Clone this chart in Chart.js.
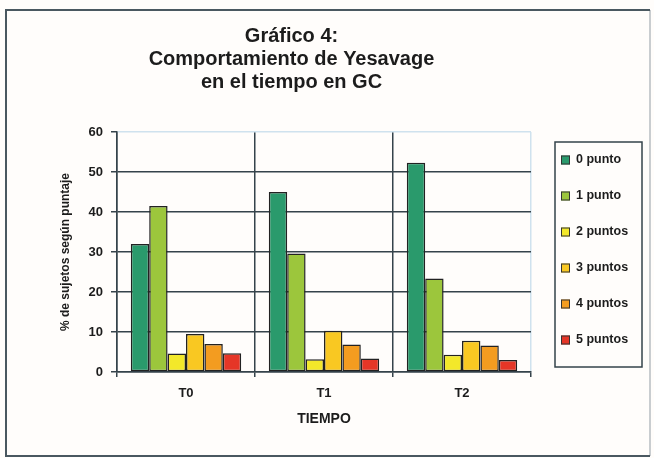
<!DOCTYPE html>
<html>
<head>
<meta charset="utf-8">
<script src="https://cdn.jsdelivr.net/npm/chart.js@4/dist/chart.umd.min.js"></script>
<style>
  html, body { margin: 0; padding: 0; background: #fffdfb; }
  canvas { display: block; }
</style>
</head>
<body>
<canvas id="chart" width="654" height="458"></canvas>
<script>
// Periods on the category axis
const periods = ['T0', 'T1', 'T2'];

// Yesavage score groups (one series each), % of subjects per period
const seriesNames = ['0 punto', '1 punto', '2 puntos', '3 puntos', '4 puntos', '5 puntos'];
const punto0 = [32, 45, 52.3];
const punto1 = [41.5, 29.6, 23.4];
const punto2 = [4.6, 3.2, 4.3];
const punto3 = [9.5, 10.3, 7.8];
const punto4 = [7, 6.9, 6.6];
const punto5 = [4.7, 3.4, 3.0];

// Value axis
const yMin = 0;
const yMax = 60;
const yStep = 10;

const seriesValues = [punto0, punto1, punto2, punto3, punto4, punto5];
const seriesColors = ['#2a9a6c', '#9cc63c', '#f3e82a', '#f9c822', '#f39c20', '#e53627'];

const FONT = "'Liberation Sans', Arial, Helvetica, sans-serif";
const INK = '#1c1c1c';
const GRID_DARK = '#35434b';
const GRID_LIGHT = '#cfe2ee';

// Page frame and background
const framePlugin = {
  id: 'frame',
  beforeDraw(chart) {
    const ctx = chart.ctx;
    ctx.save();
    ctx.fillStyle = '#fffdfb';
    ctx.fillRect(0, 0, chart.width, chart.height);
    ctx.lineWidth = 2;
    ctx.strokeStyle = '#c9cdd0';
    ctx.beginPath();
    ctx.moveTo(650, 10); ctx.lineTo(650, 456);
    ctx.stroke();
    ctx.strokeStyle = '#4a5860';
    ctx.beginPath();
    ctx.moveTo(650, 10); ctx.lineTo(6, 10); ctx.lineTo(6, 456); ctx.lineTo(650, 456);
    ctx.stroke();
    ctx.restore();
  }
};

// Boxed legend to the right of the plot
const boxLegendPlugin = {
  id: 'boxLegend',
  afterDraw(chart) {
    const ctx = chart.ctx;
    const box = { x: 555, y: 142, w: 87, h: 225 };
    const firstY = 160, gap = 36;
    ctx.save();
    ctx.lineWidth = 1.5;
    ctx.strokeStyle = GRID_DARK;
    ctx.strokeRect(box.x, box.y, box.w, box.h);
    ctx.font = 'bold 12.5px ' + FONT;
    ctx.textBaseline = 'middle';
    ctx.textAlign = 'left';
    chart.data.datasets.forEach((ds, i) => {
      const cy = firstY + i * gap;
      ctx.fillStyle = ds.backgroundColor;
      ctx.fillRect(561, cy - 4.5, 9, 9);
      ctx.lineWidth = 1;
      ctx.strokeStyle = '#333';
      ctx.strokeRect(561.5, cy - 4, 8, 8);
      ctx.fillStyle = INK;
      ctx.fillText(ds.label, 576, cy);
    });
    ctx.restore();
  }
};

new Chart(document.getElementById('chart'), {
  type: 'bar',
  data: {
    labels: periods,
    datasets: seriesNames.map((name, i) => ({
      label: name,
      data: seriesValues[i],
      backgroundColor: seriesColors[i],
      borderColor: '#222',
      borderWidth: 1.5,
      borderSkipped: false,
      categoryPercentage: 0.8,
      barPercentage: 1.0
    }))
  },
  options: {
    responsive: false,
    animation: false,
    layout: { padding: { left: 52, right: 123, top: 13, bottom: 20 } },
    plugins: {
      legend: { display: false },
      tooltip: { enabled: false },
      title: {
        display: true,
        text: ['Gráfico 4:', 'Comportamiento de Yesavage', 'en el tiempo en GC'],
        color: INK,
        font: { family: FONT, size: 20, weight: 'bold', lineHeight: 1.15 },
        padding: { top: 12, bottom: 38 }
      }
    },
    scales: {
      x: {
        grid: {
          offset: true,
          color: c => (c.type === 'tick' ? GRID_DARK : GRID_LIGHT),
          tickColor: GRID_DARK,
          lineWidth: 1.5,
          tickLength: 5
        },
        border: { display: true, color: GRID_DARK, width: 1.5 },
        ticks: {
          color: INK,
          font: { family: FONT, size: 13, weight: 'bold' },
          padding: 9
        },
        title: {
          display: true,
          text: 'TIEMPO',
          color: INK,
          font: { family: FONT, size: 14, weight: 'bold' },
          padding: { top: 0, bottom: 10 }
        },
        afterFit: s => { s.height = 66; }
      },
      y: {
        min: yMin,
        max: yMax,
        ticks: {
          stepSize: yStep,
          color: INK,
          font: { family: FONT, size: 13, weight: 'bold' },
          padding: 8
        },
        grid: {
          color: c => (c.tick && c.tick.value === yMax ? GRID_LIGHT : GRID_DARK),
          tickColor: GRID_DARK,
          lineWidth: 1.5,
          tickLength: 6
        },
        border: { display: true, color: GRID_DARK, width: 1.5 },
        title: {
          display: true,
          text: '% de sujetos según puntaje',
          color: INK,
          font: { family: FONT, size: 12, weight: 'bold' },
          padding: { top: 6, bottom: 0 }
        },
        afterFit: s => { s.width = 65; }
      }
    }
  },
  plugins: [framePlugin, boxLegendPlugin]
});
</script>
</body>
</html>
